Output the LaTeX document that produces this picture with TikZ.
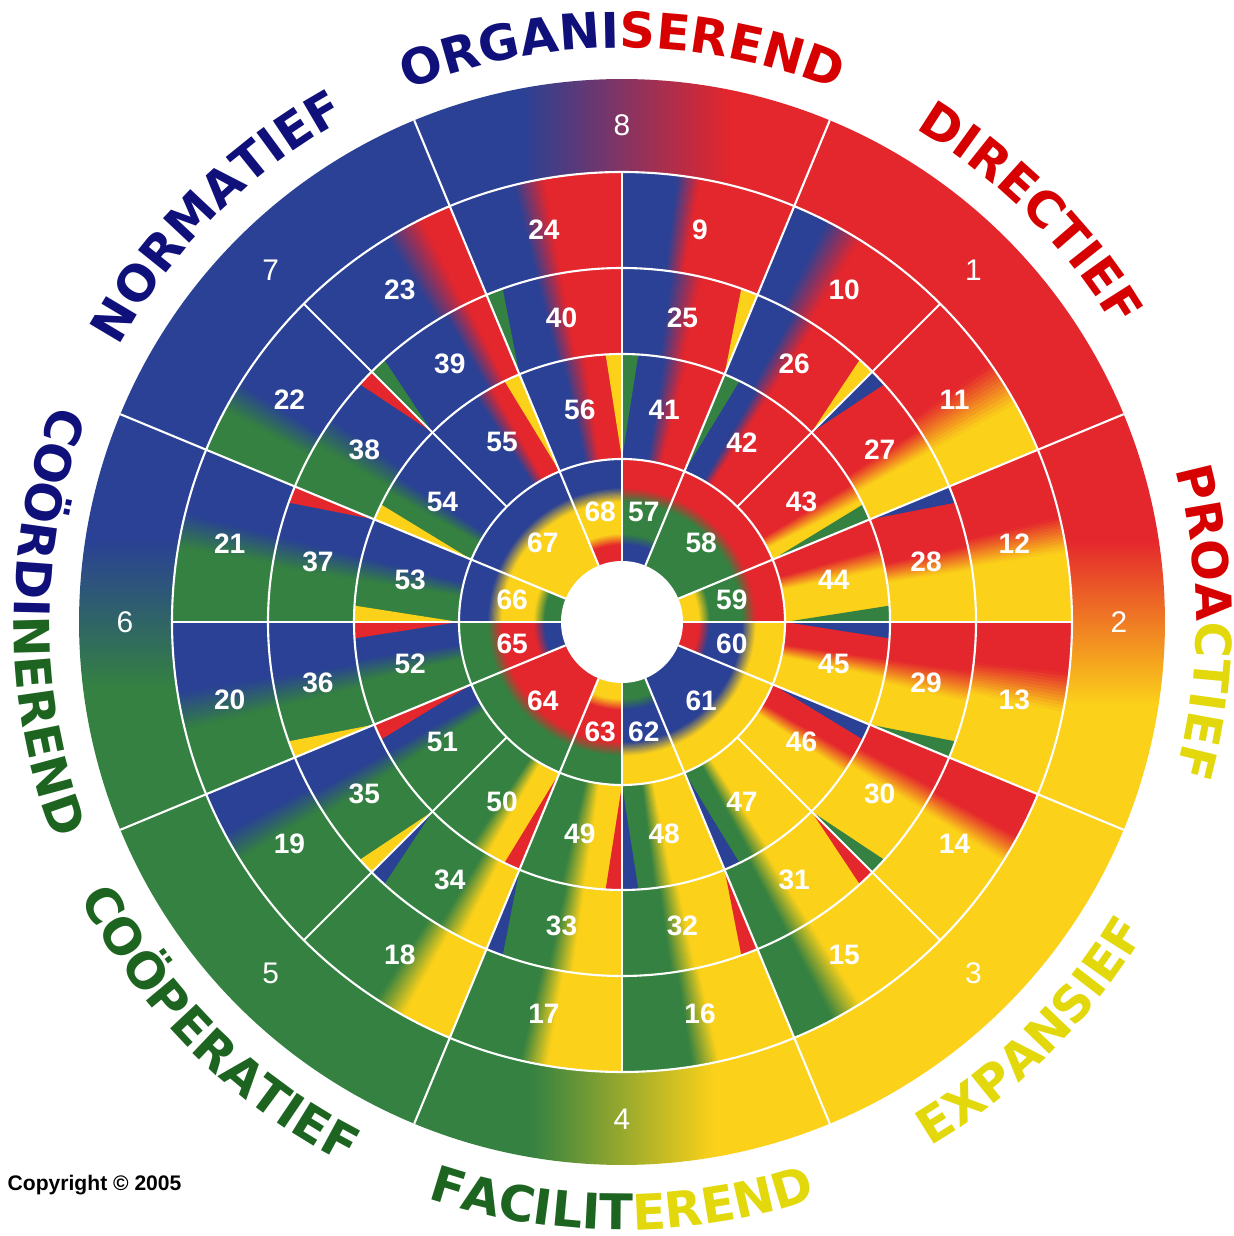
\documentclass[tikz,border=0pt]{standalone}
\usepackage{fontspec}
\setmainfont{Liberation Sans}
\newfontfamily\titlefont{DejaVu Sans}
\usetikzlibrary{decorations.text}
\definecolor{bl}{HTML}{2A4195}
\definecolor{rd}{HTML}{E4262D}
\definecolor{ye}{HTML}{FBD11A}
\definecolor{gr}{HTML}{348141}
\definecolor{tblue}{HTML}{10107A}
\definecolor{tred}{HTML}{D70000}
\definecolor{tyellow}{HTML}{E2D80C}
\definecolor{tgreen}{HTML}{1E6421}
\pgfdeclarehorizontalshading{bluered}{100bp}{color(0bp)=(bl); color(38bp)=(bl); color(63bp)=(rd); color(100bp)=(rd)}
\pgfdeclarehorizontalshading{greenyellow}{100bp}{color(0bp)=(gr); color(39bp)=(gr); color(61bp)=(ye); color(100bp)=(ye)}
\pgfdeclareverticalshading{redyellow}{100bp}{color(0bp)=(ye); color(40bp)=(ye); color(60bp)=(rd); color(100bp)=(rd)}
\pgfdeclareverticalshading{bluegreen}{100bp}{color(0bp)=(gr); color(42bp)=(gr); color(60bp)=(bl); color(100bp)=(bl)}
\newcommand{\arcfont}{\titlefont\bfseries\fontsize{14}{14}\selectfont}
\newcommand{\wsect}[4]{(#3:#1) arc[start angle=#3, end angle=#4, radius=#1] -- (#4:#2) arc[start angle=#4, end angle=#3, radius=#2] -- cycle}
\newcommand{\ringband}[3]{%
  \foreach \a/\c [remember=\a as \pa (initially 0), remember=\c as \pc (initially white)] in {#3}{%
    \edef\ca{\pc}\edef\cb{\c}%
    \ifx\ca\cb
      \pgfmathsetmacro\e{min(\a+0.3,360)}%
      \fill[\c] \wsect{#1}{#2}{\pa}{\e};
    \else
      \foreach \i in {0,...,11}{%
        \pgfmathsetmacro\s{\pa+(\a-\pa)*\i/12}%
        \pgfmathsetmacro\e{min(\pa+(\a-\pa)*(\i+1)/12+0.3,360)}%
        \pgfmathtruncatemacro\m{100-(100*\i+50)/12}%
        \fill[\ca!\m!\cb] \wsect{#1}{#2}{\s}{\e};
      }%
    \fi
  }%
}
\newcommand{\ringspoke}[3]{%
  \foreach \r/\c [remember=\r as \pr (initially 1.63), remember=\c as \pc (initially white)] in {#3}{%
    \edef\ca{\pc}\edef\cb{\c}%
    \ifx\ca\cb
      \pgfmathsetmacro\e{\r-0.02}%
      \fill[\c] \wsect{\pr}{\e}{#1}{#2};
    \else
      \foreach \i in {0,...,11}{%
        \pgfmathsetmacro\s{\pr+(\r-\pr)*\i/12}%
        \pgfmathsetmacro\e{\pr+(\r-\pr)*(\i+1)/12-0.02}%
        \pgfmathtruncatemacro\m{100-(100*\i+50)/12}%
        \fill[\ca!\m!\cb] \wsect{\s}{\e}{#1}{#2};
      }%
    \fi
  }%
}
\tikzset{
  sep/.style={white, line width=0.6pt},
  num/.style={text=white, inner sep=0pt, font=\bfseries\fontsize{8}{8}\selectfont},
  bignum/.style={text=white, inner sep=0pt, font=\fontsize{8.5}{8.5}\selectfont},
  arclabel/.style={decorate, decoration={text along path, text align=center, text={#1}}}
}
\begin{document}
\begin{tikzpicture}
	\useasboundingbox (-6.22,-6.14) rectangle (6.11,6.22);
	\fill[rd] \wsect{4.5}{5.43}{22.5}{67.5};
	\shade[shading=redyellow] \wsect{4.5}{5.43}{-22.5}{22.5};
	\fill[ye] \wsect{4.5}{5.43}{-67.5}{-22.5};
	\shade[shading=greenyellow] \wsect{4.5}{5.43}{-112.5}{-67.5};
	\fill[gr] \wsect{4.5}{5.43}{-157.5}{-112.5};
	\shade[shading=bluegreen] \wsect{4.5}{5.43}{157.5}{202.5};
	\fill[bl] \wsect{4.5}{5.43}{112.5}{157.5};
	\shade[shading=bluered] \wsect{4.5}{5.43}{67.5}{112.5};
	\ringband{3.54}{4.5}{0/ye,9/ye,13.5/rd,22.5/rd,22.5/ye,29/ye,35/rd,45/rd,
		45/rd,58/rd,63/bl,67.5/bl,67.5/rd,80/rd,83/bl,90/bl,
		90/rd,100/rd,104/bl,112.5/bl,112.5/rd,116.5/rd,121.5/bl,135/bl,
		135/bl,148/bl,152/gr,157.5/gr,157.5/bl,166/bl,170.5/gr,180/gr,
		180/bl,189/bl,194/gr,202.5/gr,202.5/bl,208/bl,212/gr,225/gr,
		225/gr,237/gr,241/ye,247.5/ye,247.5/gr,257/gr,260.5/ye,270/ye,
		270/gr,279/gr,282.5/ye,292.5/ye,292.5/gr,298/gr,302/ye,315/ye,
		315/ye,328/ye,331.5/rd,337.5/rd,337.5/ye,348.5/ye,353.5/rd,360/rd}
	\ringband{2.68}{3.54}{0/ye,8.5/ye,12.5/rd,22.5/rd,22.5/ye,29/ye,33/rd,45/rd,
		45/rd,57/rd,61/bl,67.5/bl,67.5/rd,77/rd,82/bl,90/bl,
		90/rd,100/rd,104/bl,112.5/bl,112.5/rd,116/rd,120/bl,135/bl,
		135/bl,145/bl,150/gr,157.5/gr,157.5/bl,166/bl,171/gr,180/gr,
		180/bl,189/bl,194/gr,202.5/gr,202.5/bl,209/bl,213/gr,225/gr,
		225/gr,239/gr,243/ye,247.5/ye,247.5/gr,258/gr,262/ye,270/ye,
		270/gr,278/gr,282/ye,292.5/ye,292.5/gr,298/gr,302/ye,315/ye,
		315/ye,328/ye,332/rd,337.5/rd,337.5/ye,347/ye,352/rd,360/rd}
	\ringband{1.63}{2.68}{0/ye,11.5/ye,16/rd,22.5/rd,22.5/ye,27/ye,31/rd,45/rd,
		45/rd,57/rd,60/bl,67.5/bl,67.5/rd,76/rd,81/bl,90/bl,
		90/rd,98/rd,103/bl,112.5/bl,112.5/rd,119/rd,123/bl,135/bl,
		135/bl,147/bl,151/gr,157.5/gr,157.5/bl,166/bl,171/gr,180/gr,
		180/bl,188/bl,193/gr,202.5/gr,202.5/bl,209/bl,213/gr,225/gr,
		225/gr,236/gr,240/ye,247.5/ye,247.5/gr,257/gr,262/ye,270/ye,
		270/gr,277/gr,281/ye,292.5/ye,292.5/gr,299/gr,303/ye,315/ye,
		315/ye,326/ye,330/rd,337.5/rd,337.5/ye,348/ye,352/rd,360/rd}
	\foreach \a/\b/\c in {90/93.5/ye,90/86.5/gr,67.5/64/gr,22.5/26/gr,0/3.5/gr,0/-3.5/bl,
		-22.5/-26/bl,-67.5/-64/bl,-90/-93.5/rd,-90/-86.5/bl,-112.5/-116/rd,-157.5/-154/rd,
		180/176.5/ye,180/183.5/rd,157.5/154/ye,112.5/116/ye}
		\fill[\c] (\a:1.63) -- (\a:2.68) arc[start angle=\a, end angle=\b, radius=2.68] -- cycle;
	\foreach \a/\b/\c in {67.5/70.3/ye,45/47.8/ye,45/42.2/bl,22.5/19.7/bl,-22.5/-19.7/gr,
		-45/-42.2/gr,-45/-47.8/rd,-67.5/-70.3/rd,-112.5/-109.7/bl,-135/-137.8/ye,-135/-132.2/bl,
		-157.5/-160.3/ye,157.5/160.3/rd,135/137.8/rd,135/132.2/gr,112.5/109.7/gr}
		\fill[\c] (\a:2.68) -- (\a:3.54) arc[start angle=\a, end angle=\b, radius=3.54] -- cycle;
	\foreach \sa/\sb/\ko/\km/\ki in {67.5/90/rd/gr/bl,22.5/67.5/rd/gr/gr,0/22.5/rd/gr/ye,
		-22.5/0/ye/bl/rd,-67.5/-22.5/ye/bl/bl,-90/-67.5/ye/bl/gr,-112.5/-90/gr/rd/ye,
		-157.5/-112.5/gr/rd/rd,-180/-157.5/gr/rd/bl,157.5/180/bl/ye/gr,112.5/157.5/bl/ye/ye,
		90/112.5/bl/ye/rd}
		\ringspoke{\sa}{\sb}{1.63/\ko,1.34/\ko,1.2/\km,0.88/\km,0.77/\ki,0.61/\ki};
	\fill[white] (0,0) circle (0.61);
	\foreach \r in {1.63,2.68,3.54,4.5}
		\draw[sep] (0,0) circle (\r);
	\foreach \a in {0,22.5,...,337.5}
		\draw[sep] (\a:1.63) -- (\a:4.5);
	\foreach \a in {22.5,67.5,...,337.5}
		\draw[sep] (\a:4.5) -- (\a:5.43);
	\foreach \a in {0,22.5,67.5,90,112.5,157.5,180,202.5,247.5,270,292.5,337.5}
		\draw[sep] (\a:0.61) -- (\a:1.63);
	\foreach \n in {1,...,8}{
		\pgfmathsetmacro\ang{45-45*(\n-1)}
		\node[bignum] (o\n) at (\ang:4.97) {\n};
	}
	\foreach \n in {9,...,24}{
		\pgfmathsetmacro\ang{78.75-22.5*(\n-9)}
		\node[num] (n\n) at (\ang:4) {\n};
	}
	\foreach \n in {25,...,40}{
		\pgfmathsetmacro\ang{78.75-22.5*(\n-25)}
		\node[num] (n\n) at (\ang:3.1) {\n};
	}
	\foreach \n in {41,...,56}{
		\pgfmathsetmacro\ang{78.75-22.5*(\n-41)}
		\node[num] (n\n) at (\ang:2.16) {\n};
	}
	\foreach \n/\ang in {57/78.75,58/45,59/11.25,60/-11.25,61/-45,62/-78.75,63/-101.25,
		64/-135,65/-168.75,66/168.75,67/135,68/101.25}
		\node[num] (n\n) at (\ang:1.12) {\n};
	\path[arclabel={|\arcfont\color{tblue}|ORGANI|\arcfont\color{tred}|SEREND}] (130:5.74) arc[start angle=130, end angle=50, radius=5.74];
	\path[arclabel={|\arcfont\color{tred}|DIRECTIEF}] (85:5.74) arc[start angle=85, end angle=5, radius=5.74];
	\path[arclabel={|\arcfont\color{tred}|PROA|\arcfont\color{tyellow}|CTIEF}] (40:5.74) arc[start angle=40, end angle=-40, radius=5.74];
	\path[arclabel={|\arcfont\color{tblue}|NORMATIEF}] (175:5.74) arc[start angle=175, end angle=95, radius=5.74];
	\path[arclabel={|\arcfont\color{tyellow}|EXPANSIEF}] (-85:6.08) arc[start angle=-85, end angle=-5, radius=6.08];
	\path[arclabel={|\arcfont\color{tgreen}|FACILIT|\arcfont\color{tyellow}|EREND}] (-130:6.08) arc[start angle=-130, end angle=-50, radius=6.08];
	\path[arclabel={|\arcfont\color{tgreen}|COÖPERATIEF}] (-175:6.08) arc[start angle=-175, end angle=-95, radius=6.08];
	\path[arclabel={|\arcfont\color{tblue}|COÖRDI|\arcfont\color{tgreen}|NEREND}] (140:6.08) arc[start angle=140, end angle=220, radius=6.08];
	\node[anchor=base west, inner sep=0pt, font=\bfseries\fontsize{6}{6}\selectfont] (copy) at (-6.15,-5.68) {Copyright © 2005};
\end{tikzpicture}
\end{document}
